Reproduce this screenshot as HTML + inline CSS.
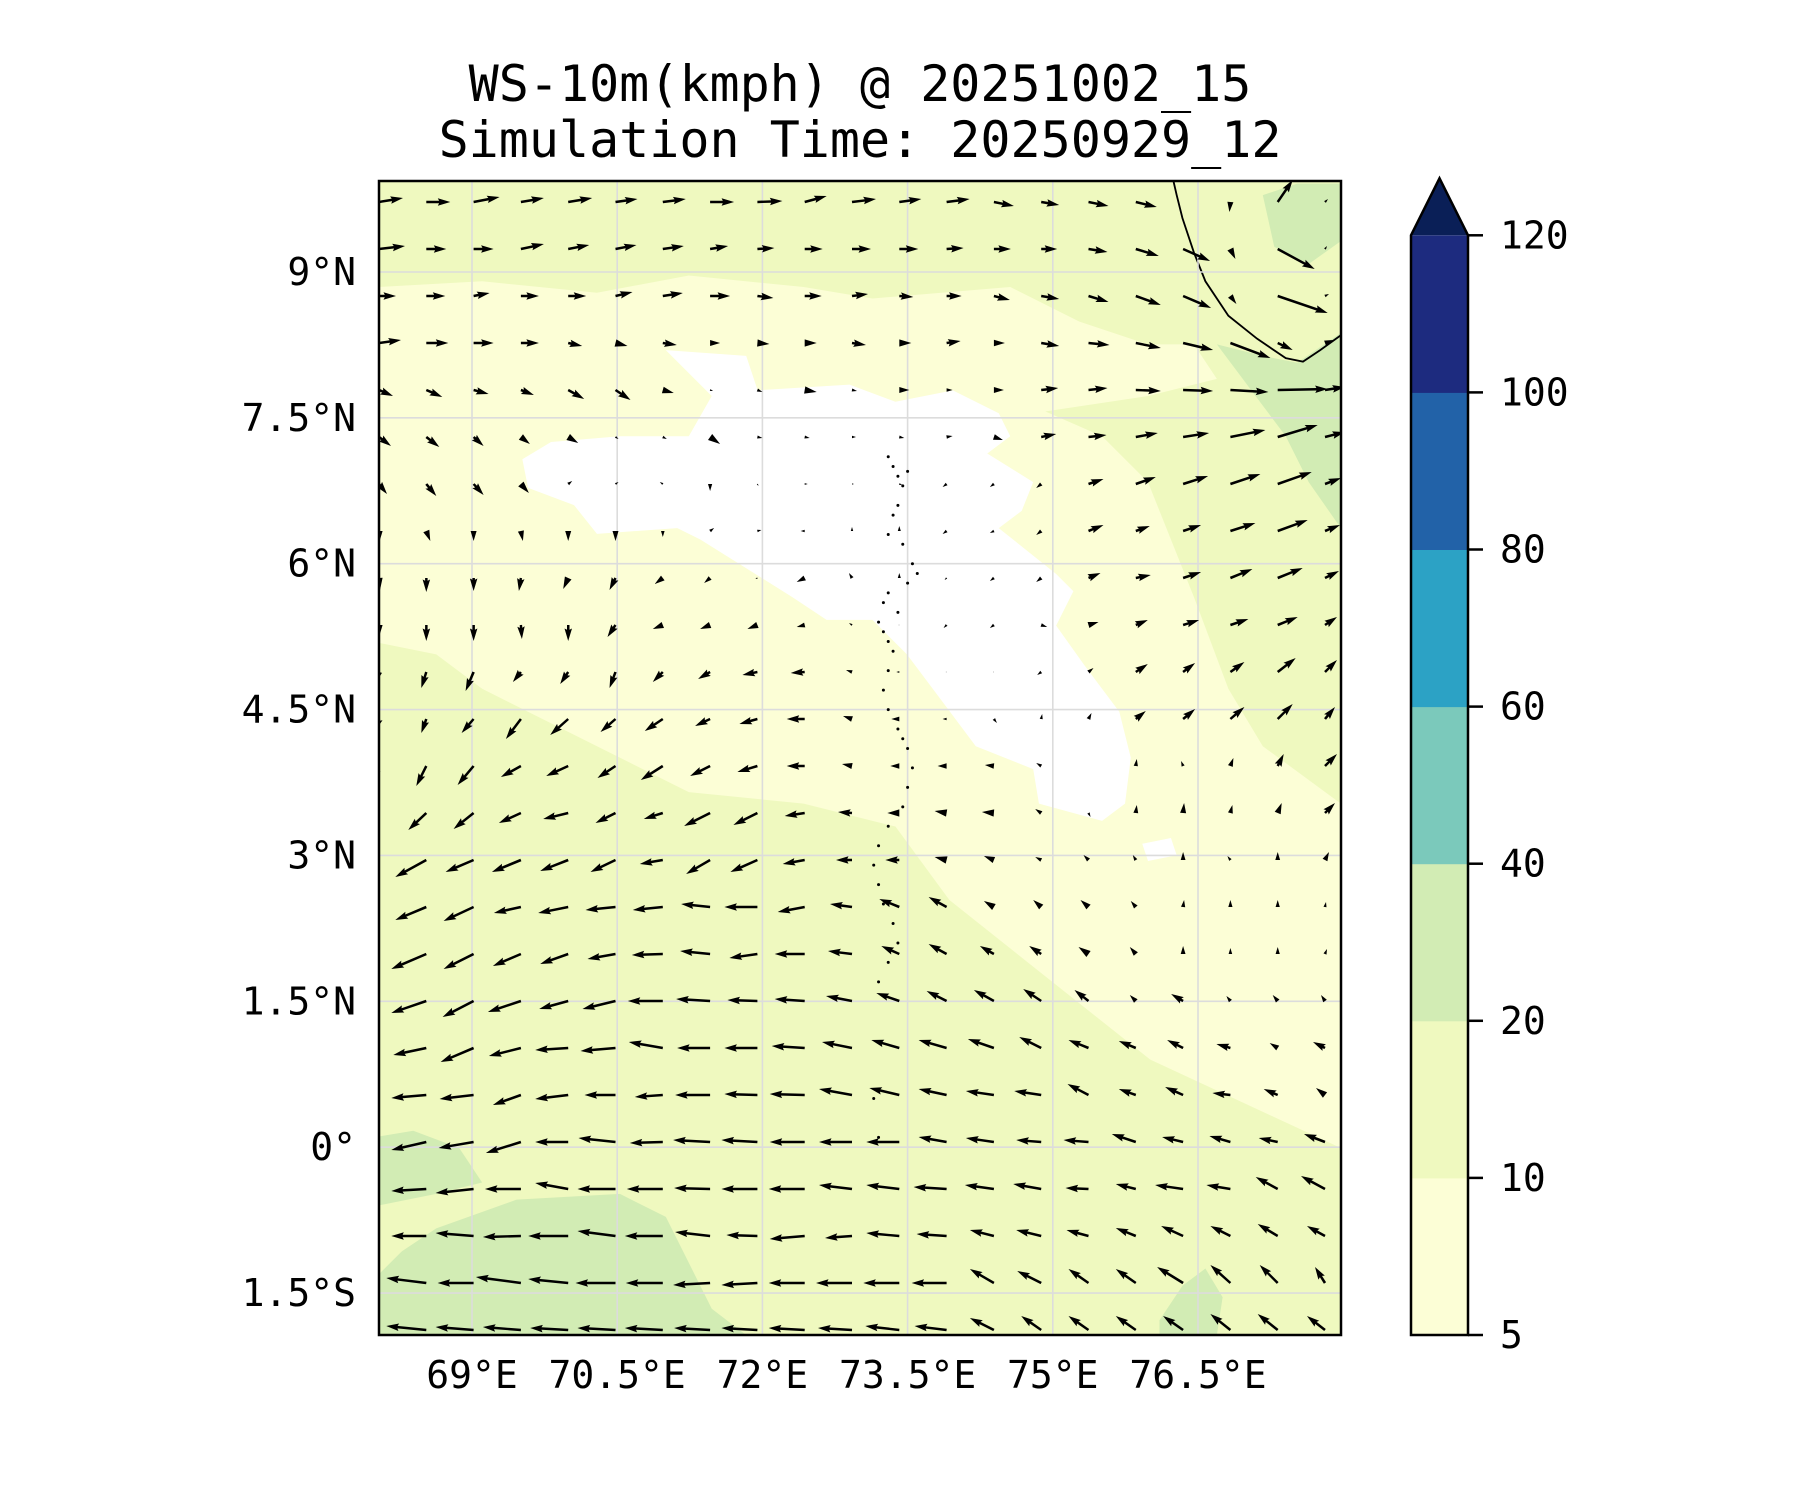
<!DOCTYPE html>
<html><head><meta charset="utf-8"><style>
html,body{margin:0;padding:0;background:#fff;}
svg{display:block;}
text{font-family:"DejaVu Sans Mono","Liberation Mono",monospace;fill:#000;}
</style></head><body>
<svg id="chart" width="1800" height="1500" viewBox="0 0 1800 1500" xmlns="http://www.w3.org/2000/svg">
<text x="860" y="101" font-size="50" text-anchor="middle">WS-10m(kmph) @ 20251002_15</text>
<text x="860" y="157" font-size="50" text-anchor="middle">Simulation Time: 20250929_12</text>
<defs><clipPath id="plotclip"><rect x="379" y="181" width="962" height="1154"/></clipPath></defs>
<g clip-path="url(#plotclip)">
  <rect x="379" y="181" width="962" height="1154" fill="#eff9bf"/>
  <g transform="scale(1.148)">
    <polygon fill="#fcfed6" points="330,300 420,290 560,285 700,320 880,345 960,380 1000,420 1040,520 1070,600 1100,650 1168,700 1168,1000 1002,923 915,854 827,784 780,720 700,700 600,690 500,640 420,600 380,570 330,560"/>
    <polygon fill="#fcfed6" points="330,250 420,245 520,255 600,240 700,250 760,260 880,250 940,280 1000,300 1040,300 1060,330 1000,345 900,360 800,345 700,330 560,300 420,300 330,320"/>
    <polygon fill="#d2ecb4" points="330,1163 330,1110 350,1090 380,1070 450,1045 540,1040 580,1060 600,1100 620,1140 650,1163"/>
    <polygon fill="#d2ecb4" points="330,990 360,985 400,1000 420,1030 380,1040 330,1050"/>
    <polygon fill="#d2ecb4" points="1060,300 1100,310 1130,316 1168,290 1168,460 1140,420 1120,380 1090,340"/>
    <polygon fill="#d2ecb4" points="1100,170 1130,160 1168,160 1168,210 1140,230 1110,215"/>
    <polygon fill="#d2ecb4" points="1010,1150 1030,1120 1050,1105 1065,1130 1060,1163 1010,1163"/>
    <polygon fill="#ffffff" points="580,305 650,310 660,340 740,335 780,350 830,340 870,360 880,380 860,395 900,420 890,445 870,460 920,500 935,515 920,545 945,580 975,620 985,660 980,700 960,715 905,700 900,670 850,650 820,610 790,570 760,540 720,540 690,520 650,495 610,470 590,460 520,465 500,440 460,425 455,400 480,385 540,380 600,380 620,345"/>
    <polygon fill="#ffffff" points="995,735 1020,730 1025,745 1000,750"/>
    <path fill="none" stroke="#000" stroke-width="1.6" d="M1022,157 L1025,170 L1030,190 L1040,220 L1050,245 L1070,275 L1095,295 L1120,312 L1135,315 L1150,305 L1168,292"/>
  </g>
  <g id="grid"></g>
  <g id="islands"></g>
  <g id="arrows"></g>
</g>
<rect x="379" y="181" width="962" height="1154" fill="none" stroke="#000" stroke-width="2.5"/>
<g id="axes"></g>
<g id="cbar"></g>
</svg>
<script>
const NS="http://www.w3.org/2000/svg";
const lonTicks=[69,70.5,72,73.5,75,76.5];
const lonLabels=["69°E","70.5°E","72°E","73.5°E","75°E","76.5°E"];
const latTicks=[9,7.5,6,4.5,3,1.5,0,-1.5];
const latLabels=["9°N","7.5°N","6°N","4.5°N","3°N","1.5°N","0°","1.5°S"];
const cbarLevels=[5,10,20,40,60,80,100,120];
const cbarColors=["#fcfed6","#eff9bf","#d2ecb4","#7bc9bb","#2ca2c5","#2262a8","#1d2b7f"];
const cbarExtendColor="#0a1f57";
const windU=[
[24,24,26,23,24,22,23,24,25,22,24,22,23,20,18,20,21,0,-1,15,3],
[26,20,20,23,21,21,21,18,17,18,19,19,17,17,16,19,23,27,5,37,2],
[17,19,16,18,18,17,20,20,16,17,16,14,15,16,18,20,25,28,6,50,4],
[22,22,20,18,14,12,14,10,12,12,14,12,14,11,18,21,25,30,40,15,8],
[14,16,15,13,16,15,11,3,5,12,5,10,6,10,17,19,25,30,38,50,20],
[12,13,10,9,10,3,4,10,5,5,4,5,6,9,15,18,22,26,35,40,20],
[8,10,10,8,4,3,-3,0,1,3,2,3,-4,-4,-5,15,20,25,30,34,16],
[0,4,0,2,0,0,0,4,4,-4,0,0,-4,-4,-5,15,14,18,25,30,15],
[1,0,0,-2,-5,-6,-8,-6,-2,-8,-3,0,-2,-4,-5,12,15,18,22,25,14],
[0,0,0,1,0,-8,-10,-10,-10,-8,-3,-1,-3,-4,6,10,12,16,18,20,12],
[-3,-5,-8,-8,-8,-6,-10,-12,-15,-14,-6,-3,-1,-1,-4,5,12,12,14,18,12],
[-4,-5,-12,-15,-18,-15,-18,-15,-18,-18,-9,-8,-4,3,1,3,10,12,14,15,10],
[-8,-10,-16,-20,-22,-18,-22,-20,-20,-18,-10,-9,-9,-9,-5,0,1,-2,3,6,12],
[-15,-18,-20,-22,-25,-20,-19,-26,-24,-20,-14,-12,-12,-12,-6,2,1,1,2,4,10],
[-25,-31,-28,-29,-28,-25,-23,-24,-27,-22,-16,-14,-12,-10,-6,-5,-3,0,-3,0,4],
[-28,-31,-30,-27,-30,-30,-30,-29,-33,-27,-22,-20,-18,-10,-8,-8,-5,1,0,0,1],
[-30,-35,-30,-28,-28,-28,-31,-30,-28,-30,-24,-18,-18,-14,-12,-10,-6,0,0,0,2],
[-32,-35,-31,-33,-29,-33,-35,-34,-30,-30,-26,-23,-20,-20,-18,-14,-6,-12,-4,-5,-4],
[-33,-33,-33,-32,-33,-35,-34,-33,-33,-33,-30,-28,-28,-26,-22,-20,-17,-16,-14,-8,-12],
[-35,-35,-34,-28,-33,-31,-28,-35,-33,-35,-33,-30,-28,-28,-27,-21,-17,-18,-18,-14,-9],
[-35,-35,-35,-35,-33,-37,-33,-37,-36,-35,-33,-33,-28,-28,-25,-25,-24,-21,-21,-19,-21],
[-35,-35,-38,-36,-33,-38,-36,-36,-36,-36,-33,-33,-33,-29,-28,-23,-20,-28,-24,-22,-24],
[-35,-35,-38,-38,-40,-38,-38,-35,-31,-35,-27,-33,-30,-24,-25,-22,-20,-22,-20,-20,-18],
[-40,-40,-36,-45,-40,-40,-37,-37,-36,-36,-36,-36,-35,-24,-24,-20,-20,-26,-20,-18,-10],
[-40,-40,-38,-38,-38,-38,-38,-36,-36,-36,-34,-34,-32,-24,-20,-20,-20,-20,-20,-20,-18]];
const windV=[
[4,0,5,4,4,3,3,0,1,6,3,3,3,-4,-3,-4,-5,0,-10,22,3],
[3,0,0,5,4,4,3,3,1,0,0,0,1,0,0,-3,-7,-12,-10,-20,3],
[0,0,3,0,0,4,3,0,-2,0,2,-1,0,-4,-3,-6,-9,-12,-8,-17,2],
[3,0,0,0,-3,-3,-2,0,-1,0,-2,0,2,0,-3,-2,-5,-7,-15,-7,3],
[-6,-7,-4,-5,-9,-10,-3,-1,-2,-2,-1,0,0,0,2,2,-1,-1,-2,1,3],
[-9,-10,-9,-7,-6,-2,-2,-7,-1,-1,0,-1,1,-3,3,2,4,4,7,12,5],
[-10,-12,-11,-9,3,2,2,-7,-2,0,0,-1,-3,-3,-4,5,7,8,10,12,6],
[-12,-10,-10,-10,-10,-10,-6,3,1,0,4,5,-3,-2,-4,6,5,6,8,11,6],
[-12,-14,-13,-13,-11,-12,-6,-5,-1,-4,5,5,-2,-3,-4,5,3,6,9,10,7],
[-12,-16,-16,-14,-16,-12,-4,-4,-4,-2,2,0,-3,-3,-2,3,5,5,6,8,8],
[-10,-16,-19,-10,-12,-16,-10,-7,-3,-1,2,0,0,0,-3,4,8,9,10,14,12],
[-12,-14,-14,-20,-16,-13,-12,-7,-5,0,3,0,0,-4,5,6,8,10,12,15,12],
[-14,-20,-19,-11,-10,-12,-14,-10,-6,0,2,0,0,1,3,0,7,5,8,12,12],
[-14,-17,-16,-10,-6,-10,-6,-13,-12,-3,1,0,2,1,4,-4,8,10,8,10,10],
[-14,-17,-12,-12,-11,-12,-4,-14,-12,-4,0,0,3,4,3,5,5,8,4,8,8],
[-12,-13,-14,-6,-6,-3,-3,3,0,-5,3,8,10,6,7,7,6,7,7,7,5],
[-13,-15,-15,-12,-10,-5,-1,3,-4,0,3,8,10,8,8,7,7,8,6,7,5],
[-10,-12,-16,-11,-8,-8,0,2,1,2,5,8,10,11,12,11,6,7,5,6,6],
[-7,-7,-14,-8,-2,-3,6,0,0,2,6,8,8,9,11,8,7,8,4,5,6],
[-3,-3,-4,-10,-4,0,-2,0,1,1,6,7,6,4,4,11,6,8,2,6,7],
[-8,-8,-6,-11,0,4,-1,2,2,0,0,0,5,4,2,2,8,5,6,4,8],
[-2,-2,-4,0,6,0,0,1,0,0,4,4,2,4,5,1,5,4,4,12,13],
[0,0,3,-1,0,5,0,4,1,-3,-2,3,2,6,6,6,8,10,10,12,10],
[5,5,0,6,4,0,0,-2,-2,0,0,0,0,14,12,14,14,16,18,18,16],
[4,4,3,3,2,2,2,2,2,2,2,4,4,12,14,14,14,14,16,16,14]];
const islandLon=[73.3,73.35,73.4,73.45,73.5,73.4,73.35,73.3,73.45,73.55,73.6,73.5,73.3,73.25,73.2,73.25,73.3,73.4,73.35,73.3,73.25,73.3,73.4,73.45,73.5,73.55,73.5,73.45,73.3,73.2,73.15,73.2,73.25,73.35,73.4,73.3,73.2,73.15,73.2];
const islandLat=[7.1,7.0,6.9,6.8,6.95,6.6,6.5,6.3,6.2,6.0,5.9,5.8,5.7,5.6,5.4,5.3,5.2,5.5,5.1,4.9,4.7,4.5,4.3,4.2,4.1,3.9,3.7,3.5,3.3,3.1,2.9,2.7,2.5,2.3,2.1,1.9,1.7,0.5,0.1];

const X0=379,Y0=181,X1=1341,Y1=1335;
function xLon(lon){return 472+(lon-69)*96.8;}
function yLat(lat){return 272+(9-lat)*97.24;}
const colX=i=>379+i*47.3, rowY=j=>202+j*47;

const grid=document.getElementById('grid');
lonTicks.forEach(l=>{const e=document.createElementNS(NS,'line');


e.setAttribute('x1',xLon(l));e.setAttribute('x2',xLon(l));e.setAttribute('y1',Y0);e.setAttribute('y2',Y1);
e.setAttribute('stroke','#dcdcdc');e.setAttribute('stroke-width','1.6');grid.appendChild(e);});
latTicks.forEach(l=>{const e=document.createElementNS(NS,'line');


e.setAttribute('y1',yLat(l));e.setAttribute('y2',yLat(l));e.setAttribute('x1',X0);e.setAttribute('x2',X1);
e.setAttribute('stroke','#dcdcdc');e.setAttribute('stroke-width','1.6');grid.appendChild(e);});

const isl=document.getElementById('islands');
islandLon.forEach((lo,k)=>{const c=document.createElementNS(NS,'circle');


c.setAttribute('cx',xLon(lo));c.setAttribute('cy',yLat(islandLat[k]));c.setAttribute('r','1.5');c.setAttribute('fill','#000');isl.appendChild(c);});

const arr=document.getElementById('arrows');
const w=2.5,hl=5*w,hal=4.5*w,hw=3*w;
windU.forEach((row,j)=>row.forEach((u,i)=>{
  const v=windV[j][i];const L=Math.hypot(u,v);if(L<0.5)return;
  let pts;
  if(L<hl){const s=L/hl;pts=[[0,-hw/2*s],[L,0],[0,hw/2*s]];}
  else pts=[[0,-w/2],[L-hal,-w/2],[L-hl,-hw/2],[L,0],[L-hl,hw/2],[L-hal,w/2],[0,w/2]];
  const a=Math.atan2(-v,u);const ca=Math.cos(a),sa=Math.sin(a);
  const x=colX(i),y=rowY(j);
  const p=document.createElementNS(NS,'polygon');
  
  
  p.setAttribute('points',pts.map(q=>(x+q[0]*ca-q[1]*sa).toFixed(1)+','+(y+q[0]*sa+q[1]*ca).toFixed(1)).join(' '));
  p.setAttribute('fill','#000');arr.appendChild(p);
}));

const axes=document.getElementById('axes');
lonTicks.forEach((l,k)=>{const t=document.createElementNS(NS,'text');


t.setAttribute('x',xLon(l));t.setAttribute('y',1388);t.setAttribute('font-size','38');t.setAttribute('text-anchor','middle');
t.textContent=lonLabels[k];axes.appendChild(t);});
latTicks.forEach((l,k)=>{const t=document.createElementNS(NS,'text');


t.setAttribute('x',356);t.setAttribute('y',yLat(l)+13);t.setAttribute('font-size','38');t.setAttribute('text-anchor','end');
t.textContent=latLabels[k];axes.appendChild(t);});

const cb=document.getElementById('cbar');
const cx0=1411,cx1=1468,cyB=1335,step=157.1;
cbarColors.forEach((c,k)=>{const r=document.createElementNS(NS,'rect');


r.setAttribute('x',cx0);r.setAttribute('y',cyB-(k+1)*step);r.setAttribute('width',cx1-cx0);r.setAttribute('height',step+0.5);r.setAttribute('fill',c);cb.appendChild(r);});
const topY=cyB-7*step;
const tri=document.createElementNS(NS,'polygon');


tri.setAttribute('points',`${cx0},${topY} ${(cx0+cx1)/2},${topY-57} ${cx1},${topY}`);tri.setAttribute('fill',cbarExtendColor);cb.appendChild(tri);
const outline=document.createElementNS(NS,'polygon');


outline.setAttribute('points',`${cx0},${cyB} ${cx0},${topY} ${(cx0+cx1)/2},${topY-57} ${cx1},${topY} ${cx1},${cyB}`);
outline.setAttribute('fill','none');outline.setAttribute('stroke','#000');outline.setAttribute('stroke-width','2.5');cb.appendChild(outline);
cbarLevels.forEach((lv,k)=>{const y=cyB-k*step;
const tk=document.createElementNS(NS,'line');


tk.setAttribute('x1',cx1);tk.setAttribute('x2',cx1+15);tk.setAttribute('y1',y);tk.setAttribute('y2',y);tk.setAttribute('stroke','#000');tk.setAttribute('stroke-width','2.5');cb.appendChild(tk);
const t=document.createElementNS(NS,'text');


t.setAttribute('x',1500);t.setAttribute('y',y+13);t.setAttribute('font-size','38');t.textContent=lv;cb.appendChild(t);});
</script>
</body></html>
